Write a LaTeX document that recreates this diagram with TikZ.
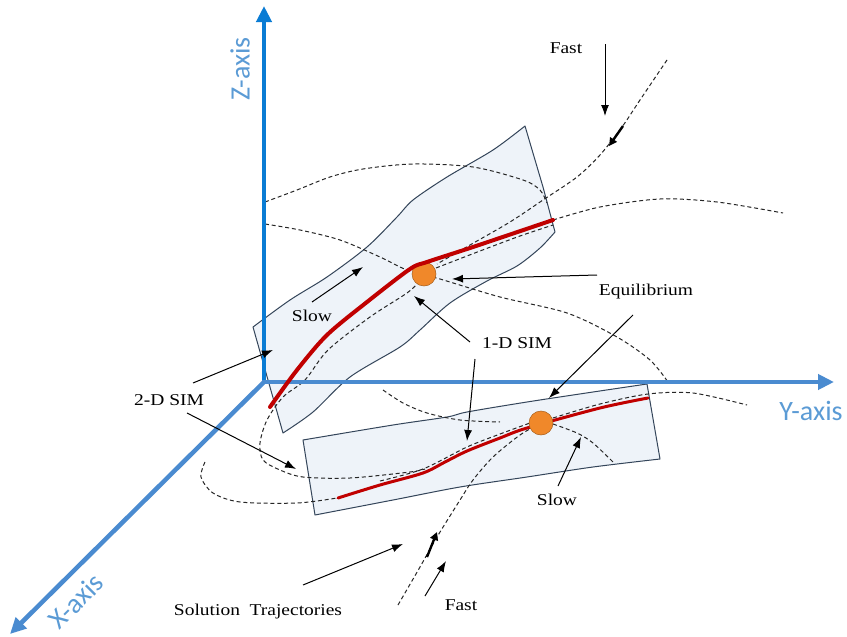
\documentclass[tikz,border=0pt]{standalone}
\usepackage{fontspec}
\setmainfont{Liberation Serif}[FakeStretch=1.18]
\newfontfamily\axfont{Carlito}
\usetikzlibrary{arrows.meta}
\definecolor{zblue}{HTML}{0A7CD4}
\definecolor{axblue}{HTML}{4A8BD0}
\definecolor{lblblue}{HTML}{5B9BD5}
\definecolor{surf}{HTML}{EEF3F9}
\definecolor{edgec}{HTML}{34455A}
\definecolor{simred}{HTML}{C00000}
\definecolor{eqor}{HTML}{F0882A}
\begin{document}
\begin{tikzpicture}[x=1pt,y=-1pt,
 traj/.style={draw=black!85, line width=1pt, dash pattern=on 4pt off 2.8pt},
 callout/.style={draw=black, line width=1pt, -{Latex[length=11pt,width=8pt]}},
 lbl/.style={font=\fontsize{16.5}{18}\selectfont, inner sep=0pt},
 axlbl/.style={font=\axfont\fontsize{28}{30}\selectfont, text=lblblue, inner sep=0pt},
 surface/.style={fill=surf, draw=edgec, line width=1pt, line join=round},
 sim/.style={draw=simred, line cap=round},
 eqpt/.style={circle, fill=eqor, draw=eqor!70!black, line width=0.5pt, minimum size=24pt, inner sep=0pt},
 axisline/.style={line width=4.5pt, -{Triangle[length=16pt,width=15pt]}},
 flow/.style={draw=black, line width=2.4pt, -{Triangle[length=8pt,width=8pt]}}
]
\path[fill=white, use as bounding box] (0,0) rectangle (847,637);

% ---------- surfaces (2-D SIMs) ----------
\path[surface] plot[smooth, tension=0.5] coordinates {(253,327) (290,300) (327,277) (367,247) (397,217) (413,200) (447,177) (493,150) (525,126)}
  -- (543,187) -- (555,232)
  -- plot[smooth, tension=0.5] coordinates {(555,232) (540,248) (517,266) (487,281) (450,303) (420,330) (400,347) (350,377) (313,412) (283,433)}
  -- cycle;
\path[surface] plot[smooth, tension=0.5] coordinates {(303,440) (393,425) (447,417) (467,412) (527,402) (593,392) (647,384)}
  -- (660,459)
  -- plot[smooth, tension=0.5] coordinates {(660,459) (593,467) (527,477) (460,487) (393,500) (315,515)}
  -- cycle;

% ---------- trajectories ----------
\draw[traj] plot[smooth] coordinates {(265,202) (297,190) (330,177) (363,169) (413,164) (473,167) (523,180) (540,190) (547,203)};
\draw[traj] plot[smooth] coordinates {(265,224) (300,230) (340,240) (380,257) (407,270) (440,279) (500,297) (567,313) (617,337) (650,360) (668,382)};
\draw[traj] plot[smooth] coordinates {(420,281) (407,293) (370,317) (328,350) (305,380) (283,397) (267,420) (260,443) (263,460) (280,470) (303,477) (350,478) (410,472) (425,469)};
\draw[traj] plot[smooth] coordinates {(205,462) (201,477) (213,493) (240,502) (297,503) (337,498)};
\draw[traj] plot[smooth] coordinates {(436,268) (480,251) (520,236) (553,225)};
\draw[traj] plot[smooth] coordinates {(667,60) (640,100) (622,127) (600,155) (577,177) (543,200) (510,222) (470,245) (437,264)};
\draw[traj] plot[smooth] coordinates {(553,220) (600,207) (660,199) (717,202) (783,213)};
\draw[traj] plot[smooth] coordinates {(383,390) (403,403) (427,413) (460,420) (500,422)};
\draw[traj] plot[smooth] coordinates {(380,481) (423,469) (467,447) (500,434) (530,423)};
\draw[traj] plot[smooth] coordinates {(553,418) (600,404) (648,394) (693,393) (747,405)};
\draw[traj] plot[smooth] coordinates {(553,424) (577,433) (593,443) (613,462)};
\draw[traj] plot[smooth] coordinates {(398,605) (420,567) (437,537) (460,500) (473,480) (493,457) (520,435) (541,423)};

% ---------- axes ----------
\coordinate (O) at (264,382);
\coordinate (Ztip) at (264,6);
\coordinate (Ytip) at (834,382);
\coordinate (Xtip) at (10,634);
\draw[axisline, draw=zblue, fill=zblue] (264,384) -- (Ztip);
\draw[axisline, draw=axblue, fill=axblue] (262,382) -- (Ytip);
\draw[axisline, draw=axblue, fill=axblue] (O) -- (Xtip);
\node[axlbl, rotate=90] (zlab) at (240,69) {Z-axis};
\node[axlbl] (ylab) at (811,411) {Y-axis};
\node[axlbl, rotate=45] (xlab) at (76,601) {X-axis};

% ---------- 1-D SIMs and equilibria ----------
\node[eqpt] (eq1) at (424,274) {};
\draw[sim, line width=4pt] plot[smooth] coordinates {(270,407) (297,370) (327,335) (367,302) (410,269) (427,262) (473,247) (553,220)};
\draw[sim, line width=3pt] plot[smooth] coordinates {(338,498) (380,485) (423,473) (445,462) (467,451) (500,438) (527,428) (600,408) (648,398)};
\node[eqpt] (eq2) at (541,423) {};

% ---------- flow direction marks ----------
\coordinate (f1a) at (623,126);
\coordinate (f1b) at (609,146);
\draw[flow] (f1a) -- (f1b);
\coordinate (f2a) at (427,557);
\coordinate (f2b) at (437,532);
\draw[flow] (f2a) -- (f2b);

% ---------- labels ----------
\node[lbl] (fastTop) at (566,48) {Fast};
\node[lbl] (eqlab) at (646,292) {Equilibrium};
\node[lbl] (simOne) at (517,343) {1-D SIM};
\node[lbl] (slowUp) at (312,316) {Slow};
\node[lbl] (slowLow) at (557,500) {Slow};
\node[lbl] (simTwo) at (169,400) {2-D SIM};
\node[lbl] (soltr) at (258,612) {Solution\ \ Trajectories};
\node[lbl] (fastBot) at (461,605) {Fast};

% ---------- callouts ----------
\coordinate (a1s) at (605,44);   \coordinate (a1e) at (605,116);
\draw[callout] (a1s) -- (a1e);
\coordinate (a2s) at (597,275);  \coordinate (a2e) at (452,279);
\draw[callout] (a2s) -- (a2e);
\coordinate (a3s) at (633,315);  \coordinate (a3e) at (549,398);
\draw[callout] (a3s) -- (a3e);
\coordinate (a4s) at (470,342);  \coordinate (a4e) at (414,296);
\draw[callout] (a4s) -- (a4e);
\coordinate (a5s) at (475,359);  \coordinate (a5e) at (467,441);
\draw[callout] (a5s) -- (a5e);
\coordinate (a6s) at (312,302);  \coordinate (a6e) at (363,267);
\draw[callout] (a6s) -- (a6e);
\coordinate (a7s) at (558,486);  \coordinate (a7e) at (581,437);
\draw[callout] (a7s) -- (a7e);
\coordinate (a8s) at (193,383);  \coordinate (a8e) at (273,350);
\draw[callout] (a8s) -- (a8e);
\coordinate (a9s) at (187,413);  \coordinate (a9e) at (296,469);
\draw[callout] (a9s) -- (a9e);
\coordinate (a10s) at (303,585); \coordinate (a10e) at (403,544);
\draw[callout] (a10s) -- (a10e);
\coordinate (a11s) at (425,596); \coordinate (a11e) at (446,561);
\draw[callout] (a11s) -- (a11e);
\end{tikzpicture}
\end{document}
